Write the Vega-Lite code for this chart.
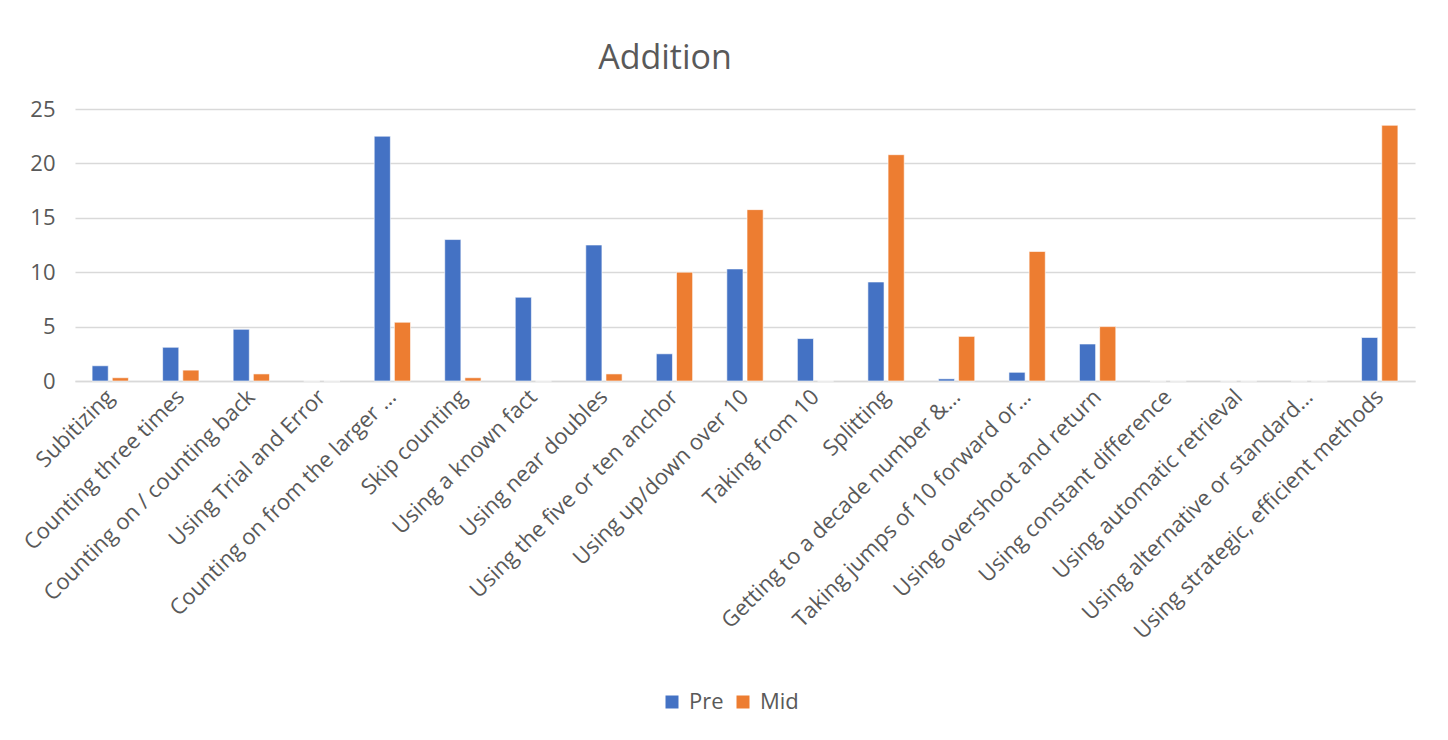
{
  "$schema": "https://vega.github.io/schema/vega-lite/v6.json",
  "autosize": "none",
  "width": 1340,
  "height": 272,
  "padding": {"left": 75, "top": 109, "right": 33, "bottom": 359},
  "background": "white",
  "title": {
    "text": "Addition",
    "font": "Open Sans",
    "fontSize": 34,
    "fontWeight": "normal",
    "color": "#595959",
    "anchor": "middle",
    "offset": 22,
    "dx": -80
  },
  "data": {
    "values": [
      {"strategy": "Subitizing", "phase": "Pre", "value": 1.4},
      {"strategy": "Subitizing", "phase": "Mid", "value": 0.3},
      {"strategy": "Counting three times", "phase": "Pre", "value": 3.1},
      {"strategy": "Counting three times", "phase": "Mid", "value": 1.0},
      {"strategy": "Counting on / counting back", "phase": "Pre", "value": 4.75},
      {"strategy": "Counting on / counting back", "phase": "Mid", "value": 0.65},
      {"strategy": "Using Trial and Error", "phase": "Pre", "value": 0},
      {"strategy": "Using Trial and Error", "phase": "Mid", "value": 0},
      {"strategy": "Counting on from the larger …", "phase": "Pre", "value": 22.5},
      {"strategy": "Counting on from the larger …", "phase": "Mid", "value": 5.4},
      {"strategy": "Skip counting", "phase": "Pre", "value": 13.0},
      {"strategy": "Skip counting", "phase": "Mid", "value": 0.3},
      {"strategy": "Using a known fact", "phase": "Pre", "value": 7.7},
      {"strategy": "Using a known fact", "phase": "Mid", "value": 0},
      {"strategy": "Using near doubles", "phase": "Pre", "value": 12.5},
      {"strategy": "Using near doubles", "phase": "Mid", "value": 0.65},
      {"strategy": "Using the five or ten anchor", "phase": "Pre", "value": 2.5},
      {"strategy": "Using the five or ten anchor", "phase": "Mid", "value": 10.0},
      {"strategy": "Using up/down over 10", "phase": "Pre", "value": 10.3},
      {"strategy": "Using up/down over 10", "phase": "Mid", "value": 15.75},
      {"strategy": "Taking from 10", "phase": "Pre", "value": 3.9},
      {"strategy": "Taking from 10", "phase": "Mid", "value": 0},
      {"strategy": "Splitting", "phase": "Pre", "value": 9.1},
      {"strategy": "Splitting", "phase": "Mid", "value": 20.8},
      {"strategy": "Getting to a decade number &…", "phase": "Pre", "value": 0.2},
      {"strategy": "Getting to a decade number &…", "phase": "Mid", "value": 4.1},
      {"strategy": "Taking jumps of 10 forward or…", "phase": "Pre", "value": 0.8},
      {"strategy": "Taking jumps of 10 forward or…", "phase": "Mid", "value": 11.9},
      {"strategy": "Using overshoot and return", "phase": "Pre", "value": 3.4},
      {"strategy": "Using overshoot and return", "phase": "Mid", "value": 5.0},
      {"strategy": "Using constant difference", "phase": "Pre", "value": 0},
      {"strategy": "Using constant difference", "phase": "Mid", "value": 0},
      {"strategy": "Using automatic retrieval", "phase": "Pre", "value": 0},
      {"strategy": "Using automatic retrieval", "phase": "Mid", "value": 0},
      {"strategy": "Using alternative or standard…", "phase": "Pre", "value": 0},
      {"strategy": "Using alternative or standard…", "phase": "Mid", "value": 0},
      {"strategy": "Using strategic, efficient methods", "phase": "Pre", "value": 4.0},
      {"strategy": "Using strategic, efficient methods", "phase": "Mid", "value": 23.5}
    ]
  },
  "mark": {"type": "bar", "stroke": "white", "strokeWidth": 0.6},
  "encoding": {
    "x": {
      "field": "strategy",
      "type": "nominal",
      "sort": null,
      "title": null,
      "scale": {"paddingInner": 0.485, "paddingOuter": 0.2425},
      "axis": {
        "labelAngle": -45,
        "labelAlign": "right",
        "labelBaseline": "middle",
        "labelPadding": 12,
        "labelFont": "Open Sans",
        "labelFontSize": 22,
        "labelColor": "#595959",
        "labelLimit": 0,
        "ticks": false,
        "domain": true,
        "domainColor": "#d9d9d9",
        "domainWidth": 1.5
      }
    },
    "xOffset": {
      "field": "phase",
      "type": "nominal",
      "sort": ["Pre", "Mid"],
      "scale": {"paddingInner": 0.2, "paddingOuter": 0}
    },
    "y": {
      "field": "value",
      "type": "quantitative",
      "title": null,
      "scale": {"domain": [0, 25], "nice": false},
      "axis": {
        "values": [0, 5, 10, 15, 20, 25],
        "labelFont": "Open Sans",
        "labelFontSize": 22,
        "labelColor": "#595959",
        "labelPadding": 20,
        "ticks": false,
        "domain": false,
        "gridColor": "#d9d9d9",
        "gridWidth": 1.5
      }
    },
    "color": {
      "field": "phase",
      "type": "nominal",
      "sort": ["Pre", "Mid"],
      "title": null,
      "scale": {"domain": ["Pre", "Mid"], "range": ["#4472C4", "#ED7D31"]},
      "legend": {
        "orient": "none",
        "direction": "horizontal",
        "legendX": 586,
        "legendY": 582,
        "symbolType": "square",
        "symbolSize": 169,
        "symbolStrokeWidth": 0,
        "labelFont": "Open Sans",
        "labelFontSize": 22,
        "labelColor": "#595959",
        "labelOffset": 6,
        "columnPadding": 8
      }
    }
  },
  "config": {
    "view": {"stroke": null}
  }
}
